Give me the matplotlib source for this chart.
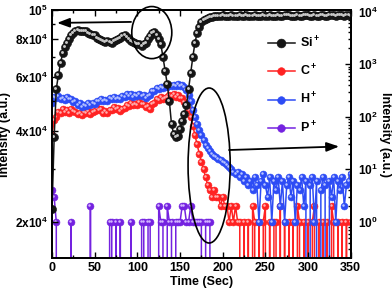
import numpy as np
import matplotlib
matplotlib.use('Agg')
import matplotlib.pyplot as plt
from matplotlib.patches import Ellipse
from matplotlib.transforms import offset_copy
from matplotlib.ticker import FixedLocator, LogLocator, NullFormatter, FixedFormatter

plt.rcParams['font.family'] = ['Liberation Sans', 'DejaVu Sans']
plt.rcParams['font.weight'] = 'bold'
plt.rcParams['mathtext.fontset'] = 'custom'
for k in ['rm', 'it', 'bf', 'sf']:
    plt.rcParams['mathtext.' + k] = 'Liberation Sans:bold'

# sampling time (s)
time = np.arange(0, 350.01, 2.5)

si = [22000, 38000, 55000, 61000, 67000, 72000, 75500, 78000, 80500, 82500,
      84000, 85000, 86000, 85500, 85000, 85500, 85000, 84000, 83500, 83000,
      82500, 81000, 80000, 79500, 79000, 78500, 79000, 78500, 78000, 79000,
      79500, 80000, 81000, 82000, 82500, 81500, 80000, 79000, 78500, 78000,
      77500, 77000, 76000, 77000, 78000, 80000, 82000, 84000, 84500, 83000,
      80500, 77000, 70000, 63000, 57000, 50000, 42000, 39000, 38000, 38500,
      40500, 43000, 45500, 48500, 55000, 62000, 70000, 78000, 84000, 88000,
      91000, 92500, 93500, 94000, 94500,
      95000, 95500, 95200, 95800, 95500, 96000, 95600, 95300, 95800, 96200,
      95700, 95400, 95900, 96300, 95800, 95500, 96000, 95600, 95300, 95800,
      96100, 95700, 95400, 95900, 96400, 95900, 95500, 96000, 95700, 95400,
      95800, 96200, 95800, 95500, 96000, 96500, 96000, 95600, 95300, 95800,
      96200, 95900, 95500, 96000, 96400, 96000, 95600, 95900, 96300, 95800,
      95500, 96000, 96400, 95900, 95600, 96100, 96500, 96100, 95700, 96000,
      96400, 96000, 95600, 96100, 96300, 95900]

c_ion = [45, 85, 100, 125, 118, 140, 124, 132, 120, 138,
         128, 122, 112, 120, 110, 124, 118, 126, 112, 122,
         130, 145, 132, 138, 120, 128, 118, 136, 132, 150,
         138, 146, 128, 142, 145, 165, 158, 180, 165, 175,
         168, 188, 172, 178, 150, 160, 142, 175, 182, 215,
         212, 240, 215, 232, 238, 262, 248, 268, 240, 258,
         232, 226, 190, 172, 135, 100, 68, 44, 30, 20,
         14, 10, 7, 5, 4, 3, 4, 3, 3, 2,
         3, 2, 2, 1, 2, 1, 2, 1, 1, 0, 1,
         0, 1, 0, 2, 1, 0, 1, 0, 1, 2,
         0, 1, 0, 1, 1, 0, 2, 0, 1, 0,
         1, 0, 1, 0, 2, 1, 0, 1, 0, 1,
         0, 1, 2, 0, 1, 0, 1, 0, 1, 0,
         2, 1, 0, 1, 0, 1, 0, 1, 0, 1]

h_ion = [180, 235, 228, 250, 215, 232, 210, 235, 215, 222,
         192, 198, 168, 180, 155, 170, 158, 180, 165, 185,
         172, 200, 195, 218, 198, 212, 195, 225, 215, 242,
         215, 228, 218, 248, 240, 268, 250, 270, 238, 262,
         248, 272, 245, 258, 230, 252, 258, 305, 305, 352,
         335, 372, 345, 378, 362, 395, 378, 410, 388, 418,
         392, 400, 360, 325, 255, 195, 135, 98, 74, 56,
         45, 36, 29, 25, 22, 20, 18, 17, 16, 15,
         14, 13, 12, 11, 10, 9, 8, 9, 7, 8, 6, 7, 5,
         6, 4, 7, 5, 1, 6, 8, 5, 3, 7,
         1, 6, 4, 7, 2, 6, 1, 5, 7, 3,
         6, 1, 5, 4, 7, 2, 6, 0, 5, 7,
         1, 6, 0, 4, 7, 5, 0, 6, 3, 7,
         1, 6, 4, 7, 2, 5, 6, 8]

p_ion = [4, 3, 1, 0, 0, 0, 0, 0, 0, 1,
         0, 0, 0, 0, 0, 0, 0, 0, 2, 0,
         0, 0, 0, 0, 0, 0, 0, 1, 1, 0,
         1, 0, 1, 0, 0, 0, 0, 1, 0, 0,
         0, 0, 1, 1, 0, 1, 1, 0, 0, 0,
         2, 1, 1, 0, 2, 1, 1, 0, 1, 1,
         1, 2, 2, 1, 1, 2, 1, 1, 1, 1,
         1, 0, 1, 1, 1, 0, 0, 0, 0, 0] + [0] * 61

assert len(si) == len(time) == len(c_ion) == len(h_ion) == len(p_ion)

left_ticks = [2e4, 4e4, 6e4, 8e4, 1e5]
left_labels = [r'$2x10^4$', r'$4x10^4$', r'$6x10^4$', r'$8x10^4$', r'$10^5$']

fig = plt.figure(figsize=(3.92, 2.92), dpi=100)
ax = fig.add_axes([0.1327, 0.1164, 0.7620, 0.8493])
ax2 = ax.twinx()
ax.set_zorder(ax2.get_zorder() + 1)
ax.patch.set_visible(False)

def beads(a, x, y, col, hl, ms, label):
    ln, = a.plot(x, y, '-', color=col, lw=1.1, marker='o', ms=ms,
                 mfc=col, mec=col, mew=0.4, label=label)
    tr = offset_copy(a.transData, fig=fig, x=-1.0, y=1.0, units='dots')
    a.plot(x, y, ls='none', marker='o', ms=ms * 0.36, mfc=hl, mec='none',
           transform=tr)
    return ln

ax2.set_yscale('log')
lp = beads(ax2, time, p_ion, '#7422e0', '#d2b4ff', 5.0, r'P$^+$')
lc = beads(ax2, time, c_ion, '#ff2222', '#ffb0b0', 5.0, r'C$^+$')
lh = beads(ax2, time, h_ion, '#2d4cf5', '#b8c4ff', 5.0, r'H$^+$')

ax.set_yscale('log')
ls_ = beads(ax, time, si, '#151515', '#c8c8c8', 5.8, r'Si$^+$')

ax.set_xlim(0, 350)
ax.set_ylim(15200, 100000)
ax2.set_ylim(0.206, 10700)

ax.xaxis.set_major_locator(FixedLocator([0, 50, 100, 150, 200, 250, 300, 350]))
ax.xaxis.set_minor_locator(FixedLocator([25, 75, 125, 175, 225, 275, 325]))
ax.yaxis.set_major_locator(FixedLocator(left_ticks))
ax.yaxis.set_major_formatter(FixedFormatter(left_labels))
ax.yaxis.set_minor_locator(FixedLocator([3e4, 5e4, 7e4, 9e4]))
ax.yaxis.set_minor_formatter(NullFormatter())
ax2.yaxis.set_major_locator(LogLocator(base=10, numticks=10))
ax2.yaxis.set_minor_locator(LogLocator(base=10, subs=np.arange(2, 10), numticks=10))
ax2.yaxis.set_minor_formatter(NullFormatter())
ax2.yaxis.set_major_formatter(plt.FuncFormatter(lambda v, p: r'$10^{%d}$' % round(np.log10(v))))

ax.tick_params(which='both', direction='in', top=True, right=False, labelsize=9, width=1.0)
ax.tick_params(which='major', length=4)
ax.tick_params(which='minor', length=2)
ax.tick_params(axis='x', pad=3)
ax.tick_params(axis='y', pad=3, labelsize=8.6)
ax2.tick_params(which='both', direction='in', labelsize=8.6, width=1.0, pad=5)
ax2.tick_params(which='major', length=4)
ax2.tick_params(which='minor', length=2)

for a in (ax, ax2):
    for s in a.spines.values():
        s.set_linewidth(1.3)

ax.set_xlabel('Time (Sec)', fontsize=9, fontweight='bold', labelpad=1)
ax.set_ylabel('Intensity (a.u.)', fontsize=9, fontweight='bold')
ax.yaxis.set_label_coords(-0.136, 0.5)
ax2.set_ylabel('Intensity (a.u.)', fontsize=9, fontweight='bold', rotation=270, va='center')
ax2.yaxis.set_label_coords(1.115, 0.5)

ax.legend(handles=[ls_, lc, lh, lp], loc='upper left', bbox_to_anchor=(0.722, 0.90),
          frameon=False, fontsize=9, handlelength=2.2, handletextpad=0.35,
          labelspacing=1.05, borderaxespad=0, borderpad=0, markerscale=1.1)

ax.add_patch(Ellipse((0.334, 0.909), 0.134, 0.21, transform=ax.transAxes,
                     fill=False, ec='k', lw=1.2, zorder=20, clip_on=False))
ax.add_patch(Ellipse((0.526, 0.373), 0.141, 0.625, transform=ax.transAxes,
                     fill=False, ec='k', lw=1.2, zorder=20))
arrow_style = dict(arrowstyle='-|>,head_length=0.75,head_width=0.28',
                   color='k', lw=1.3, mutation_scale=10, shrinkA=0, shrinkB=0)
ax.annotate('', xy=(0.017, 0.948), xytext=(0.2645, 0.952), xycoords='axes fraction',
            arrowprops=arrow_style, zorder=20)
ax.annotate('', xy=(0.961, 0.4496), xytext=(0.5926, 0.4355), xycoords='axes fraction',
            arrowprops=arrow_style, zorder=20)

fig.savefig('out.png', dpi=100)
